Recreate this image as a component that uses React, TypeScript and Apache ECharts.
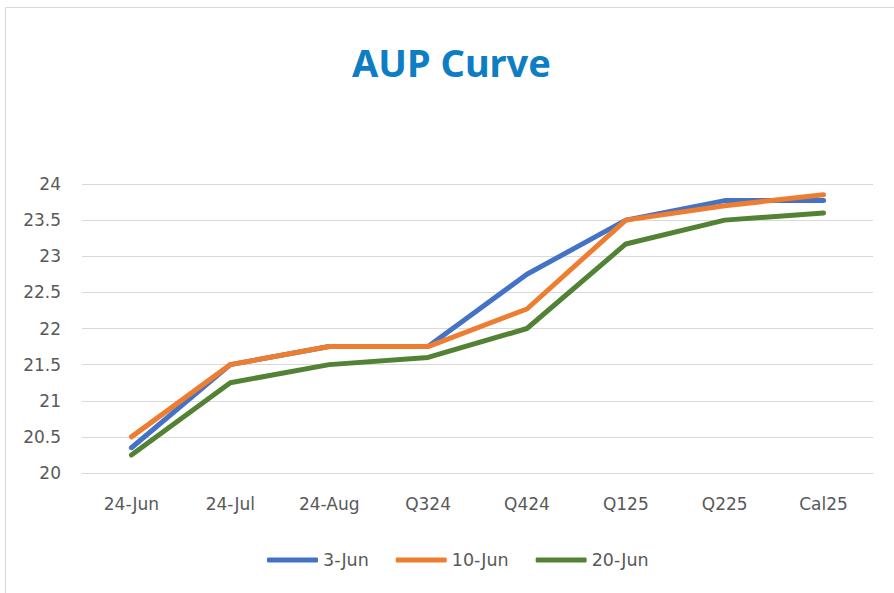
import React, { useEffect, useRef } from "react";
import * as echarts from "echarts";

const categories = ["24-Jun", "24-Jul", "24-Aug", "Q324", "Q424", "Q125", "Q225", "Cal25"];
const jun3 = [20.35, 21.5, 21.75, 21.75, 22.75, 23.5, 23.77, 23.77];
const jun10 = [20.5, 21.5, 21.75, 21.75, 22.27, 23.5, 23.7, 23.85];
const jun20 = [20.25, 21.25, 21.5, 21.6, 22.0, 23.17, 23.5, 23.6];
const seriesNames = ["3-Jun", "10-Jun", "20-Jun"];
const seriesColors = ["#4472C4", "#ED7D31", "#548235"];

export default function App() {
  const ref = useRef<HTMLDivElement>(null);
  useEffect(() => {
    if (!ref.current) return;
    const chart = echarts.init(ref.current, undefined, { renderer: "svg" });
    const data = [jun3, jun10, jun20];
    const labelFont = "DejaVu Sans";
    chart.setOption({
      animation: false,
      backgroundColor: "#ffffff",
      title: {
        text: "AUP Curve",
        left: 347,
        top: 38,
        textStyle: {
          fontFamily: "Noto Sans",
          fontWeight: "bold",
          fontSize: 38,
          color: "#0E7EC4",
        },
      },
      graphic: [
        {
          type: "rect",
          shape: { x: 5.5, y: 7.5, width: 1000, height: 1000 },
          style: { fill: "none", stroke: "#d9d9d9", lineWidth: 1 },
          silent: true,
        },
      ],
      legend: {
        left: 262,
        top: 546,
        icon: "roundRect",
        itemWidth: 51,
        itemHeight: 5,
        itemGap: 27,
        textStyle: { fontFamily: labelFont, fontSize: 17.5, color: "#595959" },
        data: seriesNames,
      },
      grid: { left: 82, right: 21, top: 184, bottom: 120, containLabel: false },
      xAxis: {
        type: "category",
        data: categories,
        boundaryGap: true,
        axisLine: { show: true, lineStyle: { color: "#d9d9d9", width: 1 } },
        axisTick: { show: false },
        axisLabel: {
          margin: 22,
          fontFamily: labelFont,
          fontSize: 17,
          color: "#595959",
        },
      },
      yAxis: {
        type: "value",
        min: 20,
        max: 24,
        interval: 0.5,
        axisLine: { show: false },
        axisTick: { show: false },
        splitLine: { lineStyle: { color: "#d9d9d9", width: 1 } },
        axisLabel: {
          margin: 21,
          fontFamily: labelFont,
          fontSize: 17,
          color: "#595959",
        },
      },
      series: seriesNames.map((name, i) => ({
        name,
        type: "line",
        data: data[i],
        symbol: "none",
        lineStyle: { color: seriesColors[i], width: 5, cap: "round", join: "round" },
        itemStyle: { color: seriesColors[i] },
      })),
    });
    return () => chart.dispose();
  }, []);
  return (
    <div
      ref={ref}
      style={{ position: "fixed", left: 0, top: 0, width: 894, height: 593 }}
    />
  );
}
